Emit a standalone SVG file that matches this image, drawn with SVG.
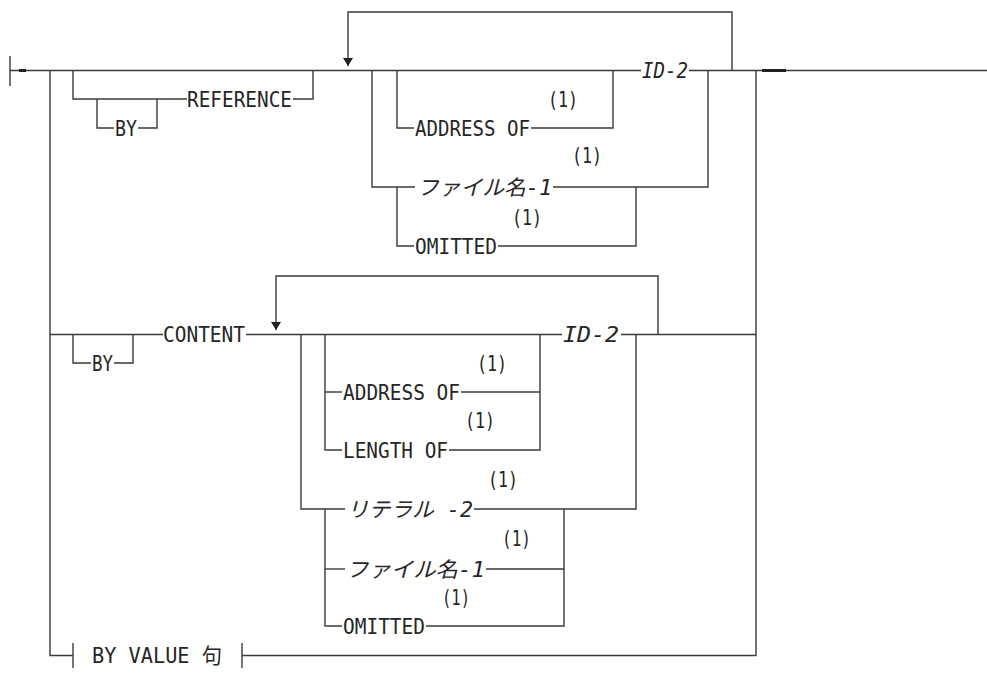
<svg xmlns="http://www.w3.org/2000/svg" width="987" height="673" viewBox="0 0 987 673">
<style>
.l{fill:none;stroke:#3a3a3a;stroke-width:1.4}
.b{fill:none;stroke:#222;stroke-width:3}
text{font-family:"DejaVu Sans Mono","Noto Sans CJK JP",monospace;font-size:21px;fill:#262626}
.i{font-style:italic}
</style>
<defs>
<marker id="ah" viewBox="0 0 8 10" refX="8" refY="5" markerWidth="8" markerHeight="10" markerUnits="userSpaceOnUse" orient="auto">
<path d="M0,0 L8,5 L0,10 Z" fill="#222"/>
</marker>
</defs>
<rect width="987" height="673" fill="#fff"/>
<g id="connectors">
<path class="l" d="M10,56 V86"/>
<path class="l" d="M10,70.5 H987"/>
<path class="b" d="M19,70.5 H26"/>
<path class="b" d="M762,70.5 H786"/>
<path class="l" d="M50,70.5 V655.5 H73"/>
<path class="l" d="M73,643 V668"/>
<path class="l" d="M242,643 V668"/>
<path class="l" d="M242,655.5 H756 V70.5"/>
<path class="l" d="M73,70.5 V99 H97"/>
<path class="l" d="M97,99 H187"/>
<path class="l" d="M97,99 V128 H114"/>
<path class="l" d="M138,128 H157 V99"/>
<path class="l" d="M293,99 H313 V70.5"/>
<path class="l" d="M732,70.5 V12 H348 V66" marker-end="url(#ah)"/>
<path class="l" d="M397,70.5 V128 H414"/>
<path class="l" d="M531,128 H613 V70.5"/>
<path class="l" d="M372,70.5 V187 H415"/>
<path class="l" d="M553,187 H708 V70.5"/>
<path class="l" d="M397,187 V246 H414"/>
<path class="l" d="M498,246 H636 V187"/>
<path class="l" d="M50,334.5 H163"/>
<path class="l" d="M73,334.5 V363 H91"/>
<path class="l" d="M114,363 H133 V334.5"/>
<path class="l" d="M246,334.5 H562"/>
<path class="l" d="M621,334.5 H756"/>
<path class="l" d="M658,334.5 V276 H276 V330" marker-end="url(#ah)"/>
<path class="l" d="M325,334.5 V450 H342"/>
<path class="l" d="M325,392 H342"/>
<path class="l" d="M461,392 H540"/>
<path class="l" d="M449,450 H540 V334.5"/>
<path class="l" d="M301,334.5 V509 H345"/>
<path class="l" d="M474,509 H636 V334.5"/>
<path class="l" d="M325,509 V626 H342"/>
<path class="l" d="M325,569 H345"/>
<path class="l" d="M486,569 H564"/>
<path class="l" d="M426,626 H564 V509"/>
</g>
<rect x="641" y="62" width="48" height="16" fill="#fff"/>
<g id="n-by1"><text x="115" y="136" textLength="22" lengthAdjust="spacingAndGlyphs">BY</text></g>
<g id="n-reference"><text x="187" y="107" textLength="105" lengthAdjust="spacingAndGlyphs">REFERENCE</text></g>
<g id="n-id2a"><text class="i" x="642" y="78" textLength="46" lengthAdjust="spacingAndGlyphs">ID-2</text></g>
<g id="n-addr1"><text x="548" y="107" textLength="30" lengthAdjust="spacingAndGlyphs">(1)</text><text x="415" y="136" textLength="115" lengthAdjust="spacingAndGlyphs">ADDRESS OF</text></g>
<g id="n-file1"><text x="572" y="163" textLength="30" lengthAdjust="spacingAndGlyphs">(1)</text><text class="i" x="417" y="195" textLength="135" lengthAdjust="spacingAndGlyphs">ファイル名-1</text></g>
<g id="n-omit1"><text x="512" y="225" textLength="30" lengthAdjust="spacingAndGlyphs">(1)</text><text x="415" y="254" textLength="82" lengthAdjust="spacingAndGlyphs">OMITTED</text></g>
<g id="n-by2"><text x="92" y="371" textLength="21" lengthAdjust="spacingAndGlyphs">BY</text></g>
<g id="n-content"><text x="163" y="342" textLength="82" lengthAdjust="spacingAndGlyphs">CONTENT</text></g>
<g id="n-id2b"><text class="i" x="563" y="342" textLength="56" lengthAdjust="spacingAndGlyphs">ID-2</text></g>
<g id="n-addr2"><text x="477" y="371" textLength="30" lengthAdjust="spacingAndGlyphs">(1)</text><text x="343" y="400" textLength="117" lengthAdjust="spacingAndGlyphs">ADDRESS OF</text></g>
<g id="n-len"><text x="465" y="428" textLength="30" lengthAdjust="spacingAndGlyphs">(1)</text><text x="343" y="458" textLength="105" lengthAdjust="spacingAndGlyphs">LENGTH OF</text></g>
<g id="n-lit"><text x="488" y="487" textLength="30" lengthAdjust="spacingAndGlyphs">(1)</text><text class="i" x="347" y="517" textLength="126" lengthAdjust="spacingAndGlyphs">リテラル -2</text></g>
<g id="n-file2"><text x="502" y="546" textLength="29" lengthAdjust="spacingAndGlyphs">(1)</text><text class="i" x="346" y="577" textLength="139" lengthAdjust="spacingAndGlyphs">ファイル名-1</text></g>
<g id="n-omit2"><text x="442" y="605" textLength="28" lengthAdjust="spacingAndGlyphs">(1)</text><text x="343" y="634" textLength="82" lengthAdjust="spacingAndGlyphs">OMITTED</text></g>
<g id="n-byvalue"><text x="92" y="663" textLength="130" lengthAdjust="spacingAndGlyphs">BY VALUE 句</text></g>
</svg>
